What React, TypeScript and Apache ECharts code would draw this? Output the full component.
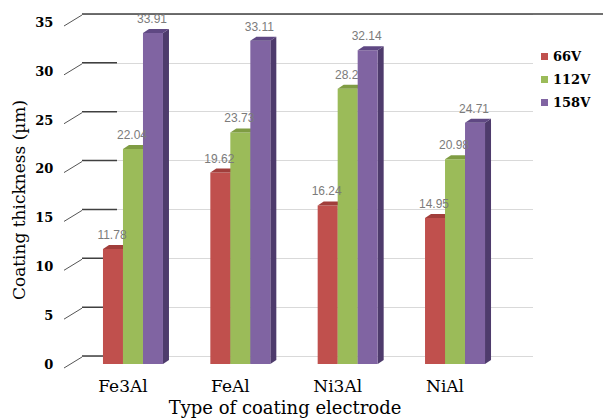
import React, { useEffect, useRef } from "react";
import * as echarts from "echarts";

const categories = ["Fe3Al", "FeAl", "Ni3Al", "NiAl"];
const seriesNames = ["66V", "112V", "158V"];
const values66 = [11.78, 19.62, 16.24, 14.95];
const values112 = [22.04, 23.73, 28.2, 20.98];
const values158 = [33.91, 33.11, 32.14, 24.71];
const seriesValues = [values66, values112, values158];
const yTicks = [0, 5, 10, 15, 20, 25, 30, 35];
const yAxisTitle = "Coating thickness (\u00b5m)";
const xAxisTitle = "Type of coating electrode";

const palette = [
  { front: "#c0504d", top: "#a13e3b", side: "#8a3431" },
  { front: "#9bbb59", top: "#7f9c43", side: "#6b8638" },
  { front: "#8064a2", top: "#5f4883", side: "#4e3b6c" },
];

const SERIF = "DejaVu Serif";
const SANS = "Liberation Sans";
const BW = 20;

export default function App() {
  const ref = useRef<HTMLDivElement>(null);
  useEffect(() => {
    if (!ref.current) return;
    const chart = echarts.init(ref.current, null, { renderer: "svg" });

    const makeBarRender = (k: number) => (params: any, api: any) => {
      const ci = api.value(0);
      const v = api.value(1);
      const base = api.coord([ci, 0]);
      const top = api.coord([ci, v]);
      const dx = 6, dy = 4;
      const x0 = base[0] - 30 + k * BW;
      const yb = base[1], yt = top[1];
      const c = palette[k];
      return {
        type: "group",
        children: [
          {
            type: "polygon",
            shape: { points: [[x0 + BW, yt], [x0 + BW + dx, yt - dy], [x0 + BW + dx, yb - dy], [x0 + BW, yb]] },
            style: { fill: c.side },
          },
          { type: "rect", shape: { x: x0, y: yt, width: BW, height: yb - yt }, style: { fill: c.front } },
          {
            type: "polygon",
            shape: { points: [[x0, yt], [x0 + BW, yt], [x0 + BW + dx, yt - dy], [x0 + dx, yt - dy]] },
            style: { fill: c.top },
          },
        ],
      };
    };

    const makeLabelRender = (k: number) => (params: any, api: any) => {
      const ci = api.value(0);
      const v = api.value(1);
      const base = api.coord([ci, 0]);
      const top = api.coord([ci, v]);
      const x0 = base[0] - 30 + k * BW;
      return {
        type: "text",
        x: x0 + BW / 2 - 1,
        y: top[1] - 14,
        style: {
          text: String(seriesValues[k][ci]),
          align: "center",
          verticalAlign: "middle",
          fontFamily: SANS,
          fontSize: 12,
          fill: "#7b7b7b",
        },
      };
    };

    const barSeries = seriesNames.map((name, k) => ({
      type: "custom",
      name,
      xAxisIndex: 0,
      yAxisIndex: 0,
      z: 3,
      clip: false,
      itemStyle: { color: palette[k].front },
      encode: { x: 0, y: 1 },
      data: seriesValues[k].map((v, i) => [i, v]),
      renderItem: makeBarRender(k),
    }));

    const labelSeries = seriesNames.map((name, k) => ({
      type: "custom",
      xAxisIndex: 0,
      yAxisIndex: 0,
      z: 5,
      silent: true,
      clip: false,
      encode: { x: 0, y: 1 },
      data: seriesValues[k].map((v, i) => [i, v]),
      renderItem: makeLabelRender(k),
    }));

    const option: any = {
      animation: false,
      backgroundColor: "#ffffff",
      grid: [
        { left: 79.3, top: 22.4, width: 429.4, height: 341.6 },
        { left: 82, top: 14, width: 451, height: 342 },
      ],
      xAxis: [
        {
          type: "category",
          gridIndex: 0,
          data: categories,
          boundaryGap: true,
          axisLine: { show: false },
          axisTick: { show: false },
          splitLine: { show: false },
          axisLabel: {
            fontFamily: SERIF,
            fontSize: 17,
            color: "#000",
            margin: 13,
            padding: [0, 20, 0, 0],
          },
        },
        { type: "value", gridIndex: 1, min: 0, max: 1, show: false },
      ],
      yAxis: [
        {
          type: "value",
          gridIndex: 0,
          min: 0,
          max: 35,
          interval: 5,
          axisLine: { show: false },
          axisTick: { show: false },
          splitLine: { show: false },
          axisLabel: {
            fontFamily: SERIF,
            fontWeight: "bold",
            fontSize: 13,
            color: "#000",
            margin: 26,
            padding: [8, 0, 0, 0],
          },
        },
        {
          type: "value",
          gridIndex: 1,
          min: 0,
          max: 35,
          interval: 5,
          axisLine: { show: false },
          axisTick: { show: false },
          axisLabel: { show: false },
          splitLine: { show: true, lineStyle: { color: "#d9d9d9", width: 1 } },
        },
      ],
      legend: {
        data: seriesNames,
        orient: "vertical",
        left: 536,
        top: 45,
        icon: "rect",
        itemWidth: 7,
        itemHeight: 7,
        itemGap: 10,
        textStyle: { fontFamily: SERIF, fontWeight: "bold", fontSize: 13, color: "#000" },
      },
      graphic: [
        {
          type: "text",
          x: 19,
          y: 200,
          rotation: Math.PI / 2,
          style: {
            text: yAxisTitle,
            align: "center",
            verticalAlign: "middle",
            fontFamily: SERIF,
            fontSize: 17,
            fill: "#000",
          },
        },
        {
          type: "text",
          x: 285,
          y: 407,
          style: {
            text: xAxisTitle,
            align: "center",
            verticalAlign: "middle",
            fontFamily: SERIF,
            fontSize: 18,
            fill: "#000",
          },
        },
      ],
      series: [
        {
          type: "custom",
          xAxisIndex: 1,
          yAxisIndex: 1,
          z: 1,
          silent: true,
          clip: false,
          data: yTicks.map((t) => [0, t]),
          renderItem: (params: any, api: any) => {
            const t = api.value(1);
            const p = api.coord([0, t]);
            const isTop = t === yTicks[yTicks.length - 1];
            const end = isTop ? api.getWidth() : p[0] + 35;
            return {
              type: "group",
              children: [
                {
                  type: "line",
                  shape: { x1: p[0] - 18, y1: p[1] + 12, x2: p[0], y2: p[1] + 1 },
                  style: { stroke: "#555", lineWidth: 1 },
                },
                {
                  type: "line",
                  shape: { x1: p[0], y1: p[1], x2: end, y2: p[1] },
                  style: { stroke: "#404040", lineWidth: 1.5 },
                },
              ],
            };
          },
        },
        ...barSeries,
        ...labelSeries,
      ],
    };
    chart.setOption(option);
    return () => chart.dispose();
  }, []);
  return (
    <div
      ref={ref}
      style={{ position: "fixed", left: 0, top: 0, width: 603, height: 418, background: "#fff" }}
    />
  );
}
